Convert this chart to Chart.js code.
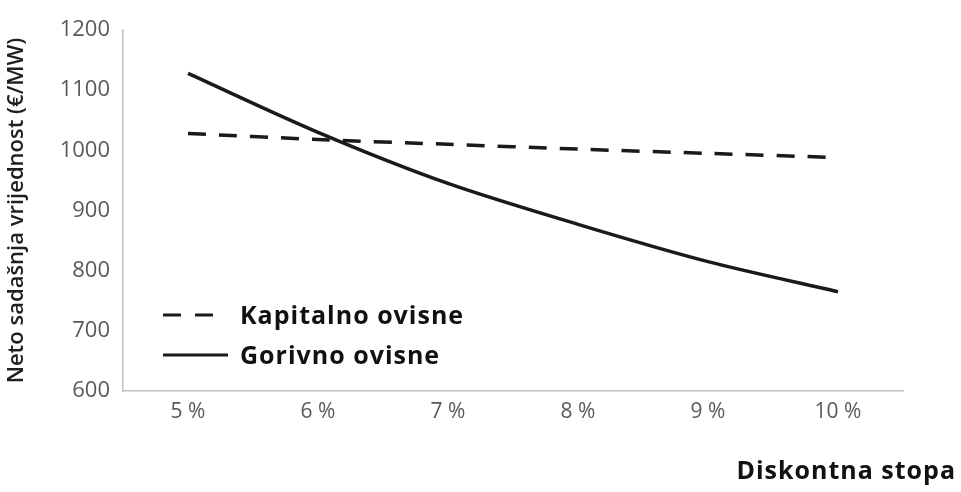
<!DOCTYPE html>
<html>
<head>
<meta charset="utf-8">
<script src="https://cdn.jsdelivr.net/npm/chart.js@4"></script>
<style>
  html, body { margin: 0; padding: 0; background: #fff; }
  #wrap { width: 961px; height: 492px; }
</style>
</head>
<body>
<div id="wrap"><canvas id="myChart"></canvas></div>
<script>
// data
const rates = ["5 %", "6 %", "7 %", "8 %", "9 %", "10 %"];
const kapitalno = [1028, 1018, 1010, 1002, 995, 988];
const gorivno = [1128, 1030, 945, 877, 815, 765];
const seriesNames = ["Kapitalno ovisne", "Gorivno ovisne"];
const yTitle = "Neto sadašnja vrijednost (€/MW)";
const xTitle = "Diskontna stopa";

const font = "'Open Sans', sans-serif";

// legend drawn inside the plot, lower left + x title at bottom right
const innerLegend = {
  id: "innerLegend",
  afterDraw(chart) {
    const ctx = chart.ctx;
    const area = chart.chartArea;
    chart.data.datasets.forEach((ds, i) => {
      const y = area.bottom - 76 + i * 40;
      ctx.save();
      ctx.strokeStyle = ds.borderColor;
      ctx.lineWidth = 3;
      ctx.setLineDash(ds.borderDash ? [18, 14] : []);
      ctx.beginPath();
      ctx.moveTo(area.left + 40, y);
      ctx.lineTo(area.left + (ds.borderDash ? 90 : 105), y);
      ctx.stroke();
      ctx.setLineDash([]);
      ctx.fillStyle = "#111";
      ctx.font = "bold 25px " + font;
      ctx.letterSpacing = "1px";
      ctx.textBaseline = "middle";
      ctx.fillText(ds.label, area.left + 117, y + 2);
      ctx.restore();
    });
    ctx.save();
    ctx.fillStyle = "#111";
    ctx.font = "bold 25px " + font;
    ctx.letterSpacing = "1px";
    ctx.textAlign = "right";
    ctx.textBaseline = "middle";
    ctx.fillText(xTitle, 956, 472);
    ctx.restore();
  }
};

new Chart(document.getElementById("myChart"), {
  type: "line",
  data: {
    labels: rates,
    datasets: [
      {
        label: seriesNames[0],
        data: kapitalno,
        borderColor: "#1a1a1a",
        borderWidth: 3.5,
        borderDash: [18, 13],
        pointRadius: 0,
        tension: 0.3,
        fill: false
      },
      {
        label: seriesNames[1],
        data: gorivno,
        borderColor: "#1a1a1a",
        borderWidth: 3.5,
        pointRadius: 0,
        tension: 0.3,
        fill: false
      }
    ]
  },
  options: {
    responsive: true,
    maintainAspectRatio: false,
    animation: false,
    layout: { padding: { top: 30, right: 58, left: 0, bottom: 0 } },
    plugins: {
      legend: { display: false },
      tooltip: { enabled: false }
    },
    scales: {
      x: {
        offset: true,
        grid: { display: false },
        border: { display: true, color: "#bfbfbf", width: 1.5 },
        ticks: { color: "#595959", font: { family: font, size: 21 }, padding: 0 },
        afterFit: (scale) => { scale.height = 101; }
      },
      y: {
        min: 600,
        max: 1200,
        grid: { display: false },
        border: { display: true, color: "#bfbfbf", width: 1.5 },
        ticks: {
          stepSize: 100,
          color: "#595959",
          font: { family: font, size: 22 },
          padding: 5,
          callback: (v) => String(v)
        },
        title: {
          display: true,
          text: yTitle,
          color: "#1f1f1f",
          font: { family: font, size: 22, weight: "600" },
          padding: { top: 4, bottom: 2 }
        },
        afterFit: (scale) => { scale.width = 123; }
      }
    }
  },
  plugins: [innerLegend]
});
</script>
</body>
</html>
